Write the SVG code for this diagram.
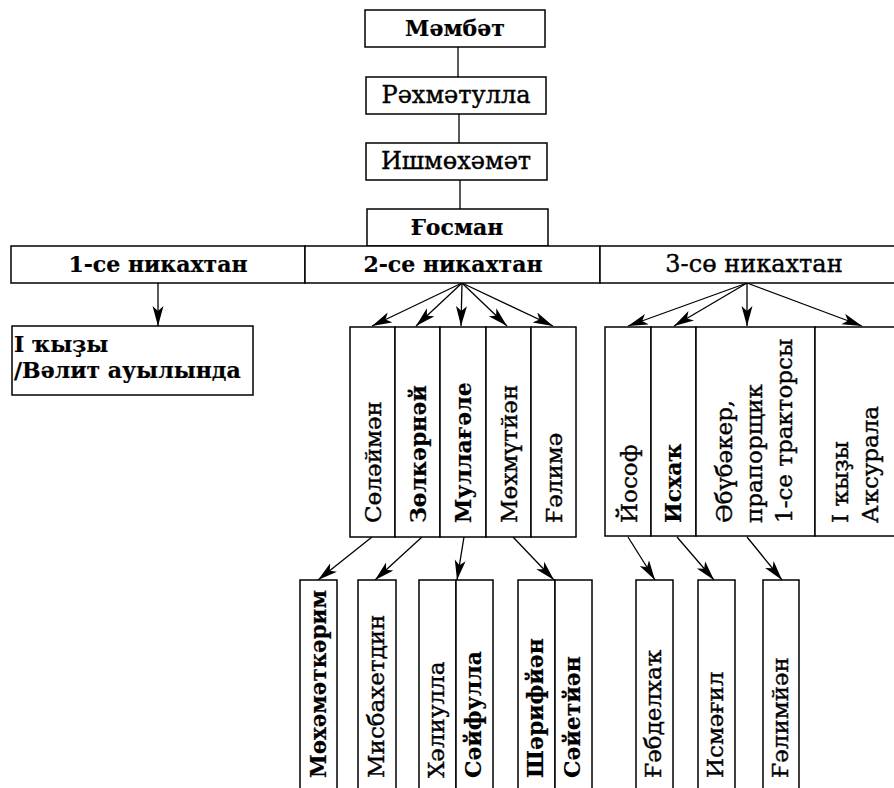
<svg xmlns="http://www.w3.org/2000/svg" width="894" height="788" viewBox="0 0 894 788">
<style>
.box{fill:#fff;stroke:#000;stroke-width:1.5}
.t{font-family:"DejaVu Serif","Liberation Serif",serif;font-size:24px;fill:#000;stroke:#000;stroke-width:0.4}
.v{font-size:23px}
.b{font-weight:bold;font-size:22px;stroke-width:0.2}
.c{text-anchor:middle}
.conn line{stroke:#000;stroke-width:1.3}
</style>
<defs>
<marker id="ah" markerUnits="userSpaceOnUse" markerWidth="22" markerHeight="12" refX="20" refY="5.5" orient="auto">
<path d="M0,0 L20,5.5 L0,11 L5,5.5 z" fill="#000"/>
</marker>
</defs>
<rect width="894" height="788" fill="#fff"/>

<g id="connectors" class="conn">
<line x1="458" y1="47" x2="458" y2="77"/>
<line x1="459" y1="114" x2="459" y2="143"/>
<line x1="460" y1="180" x2="460" y2="209"/>
<line x1="158" y1="283" x2="158" y2="326" marker-end="url(#ah)"/>
<line x1="462" y1="283" x2="372" y2="326" marker-end="url(#ah)"/>
<line x1="462" y1="283" x2="416" y2="326" marker-end="url(#ah)"/>
<line x1="462" y1="283" x2="461" y2="326" marker-end="url(#ah)"/>
<line x1="462" y1="283" x2="507" y2="326" marker-end="url(#ah)"/>
<line x1="462" y1="283" x2="553" y2="326" marker-end="url(#ah)"/>
<line x1="747" y1="283" x2="628" y2="326" marker-end="url(#ah)"/>
<line x1="747" y1="283" x2="674" y2="326" marker-end="url(#ah)"/>
<line x1="747" y1="283" x2="747" y2="326" marker-end="url(#ah)"/>
<line x1="747" y1="283" x2="862" y2="326" marker-end="url(#ah)"/>
<line x1="372" y1="537" x2="318" y2="580" marker-end="url(#ah)"/>
<line x1="422" y1="537" x2="375" y2="580" marker-end="url(#ah)"/>
<line x1="464" y1="537" x2="457" y2="580" marker-end="url(#ah)"/>
<line x1="513" y1="537" x2="554" y2="580" marker-end="url(#ah)"/>
<line x1="628" y1="537" x2="655" y2="580" marker-end="url(#ah)"/>
<line x1="677" y1="537" x2="714" y2="580" marker-end="url(#ah)"/>
<line x1="747" y1="537" x2="782" y2="580" marker-end="url(#ah)"/>
</g>

<g id="mambat"><rect class="box" x="365" y="10" width="180" height="37"/><text class="t b c" x="455" y="36">Мәмбәт</text></g>
<g id="rahmatulla"><rect class="box" x="366" y="77" width="180" height="37"/><text class="t c" x="456" y="103">Рәхмәтулла</text></g>
<g id="ishmuhamat"><rect class="box" x="366" y="143" width="181" height="37"/><text class="t c" x="456" y="169">Ишмөхәмәт</text></g>
<g id="gosman"><rect class="box" x="367" y="209" width="181" height="37"/><text class="t b c" x="457" y="235">Ғосман</text></g>

<g id="marriage1"><rect class="box" x="11" y="246" width="294" height="37"/><text class="t b c" x="158" y="272">1-се никахтан</text></g>
<g id="marriage2"><rect class="box" x="305" y="246" width="295" height="37"/><text class="t b c" x="453" y="272">2-се никахтан</text></g>
<g id="marriage3"><rect class="box" x="600" y="246" width="301" height="37"/><text class="t c" x="754" y="272">3-сө никахтан</text></g>

<g id="daughter1"><rect class="box" x="12" y="326" width="241" height="69"/><text class="t b" x="14" y="352">I ҡыҙы</text><text class="t b" x="14" y="378">/Вәлит ауылында</text></g>

<g id="sulayman"><rect class="box" x="350" y="327" width="45" height="210"/><text class="t v" transform="translate(381,523) rotate(-90)">Сөләймән</text></g>
<g id="zulkarnay"><rect class="box" x="395" y="327" width="45" height="210"/><text class="t v b" transform="translate(426,523) rotate(-90)">Зөлкәрнәй</text></g>
<g id="mullagale"><rect class="box" x="440" y="327" width="46" height="210"/><text class="t v b" transform="translate(471,523) rotate(-90)">Муллағәле</text></g>
<g id="mahmutyan"><rect class="box" x="486" y="327" width="45" height="210"/><text class="t v" transform="translate(517,523) rotate(-90)">Мөхмүтйән</text></g>
<g id="galima"><rect class="box" x="531" y="327" width="45" height="210"/><text class="t v" transform="translate(562,523) rotate(-90)">Ғәлимә</text></g>

<g id="yosof"><rect class="box" x="605" y="327" width="46" height="209"/><text class="t v" transform="translate(637,523) rotate(-90)">Йософ</text></g>
<g id="ishak"><rect class="box" x="651" y="327" width="45" height="209"/><text class="t v b" transform="translate(681,523) rotate(-90)">Исхаҡ</text></g>
<g id="abubakar"><rect class="box" x="696" y="327" width="119" height="209"/><text class="t v" transform="translate(732,523) rotate(-90)"><tspan x="0" y="0">Әбүбәкер,</tspan><tspan x="0" dy="30">прапорщик</tspan><tspan x="0" dy="30">1-се тракторсы</tspan></text></g>
<g id="daughter3"><rect class="box" x="815" y="327" width="86" height="209"/><text class="t v" transform="translate(848,523) rotate(-90)"><tspan x="0" y="0">I ҡыҙы</tspan><tspan x="0" dy="30">Аҡсурала</tspan></text></g>

<g id="muhamatkarim"><rect class="box" x="300" y="580" width="37" height="220"/><text class="t v b" transform="translate(326,778) rotate(-90)" textLength="188" lengthAdjust="spacingAndGlyphs">Мөхәмәткәрим</text></g>
<g id="misbahetdin"><rect class="box" x="358" y="580" width="38" height="220"/><text class="t v" transform="translate(384,778) rotate(-90)">Мисбахетдин</text></g>
<g id="haliulla"><rect class="box" x="419" y="580" width="37" height="220"/><text class="t v" transform="translate(444,778) rotate(-90)">Хәлиулла</text></g>
<g id="sayfulla"><rect class="box" x="456" y="580" width="37" height="220"/><text class="t v b" transform="translate(481,778) rotate(-90)">Сәйфулла</text></g>
<g id="sharifyan"><rect class="box" x="518" y="580" width="37" height="220"/><text class="t v b" transform="translate(543,778) rotate(-90)">Шәрифйән</text></g>
<g id="sayetyan"><rect class="box" x="555" y="580" width="37" height="220"/><text class="t v b" transform="translate(580,778) rotate(-90)">Сәйетйән</text></g>
<g id="gabdelhak"><rect class="box" x="636" y="580" width="37" height="220"/><text class="t v" transform="translate(661,778) rotate(-90)">Ғәбделхаҡ</text></g>
<g id="ismagil"><rect class="box" x="698" y="580" width="37" height="220"/><text class="t v" transform="translate(723,778) rotate(-90)">Исмәғил</text></g>
<g id="galimyan"><rect class="box" x="763" y="580" width="36" height="220"/><text class="t v" transform="translate(788,778) rotate(-90)">Ғәлимйән</text></g>
</svg>
